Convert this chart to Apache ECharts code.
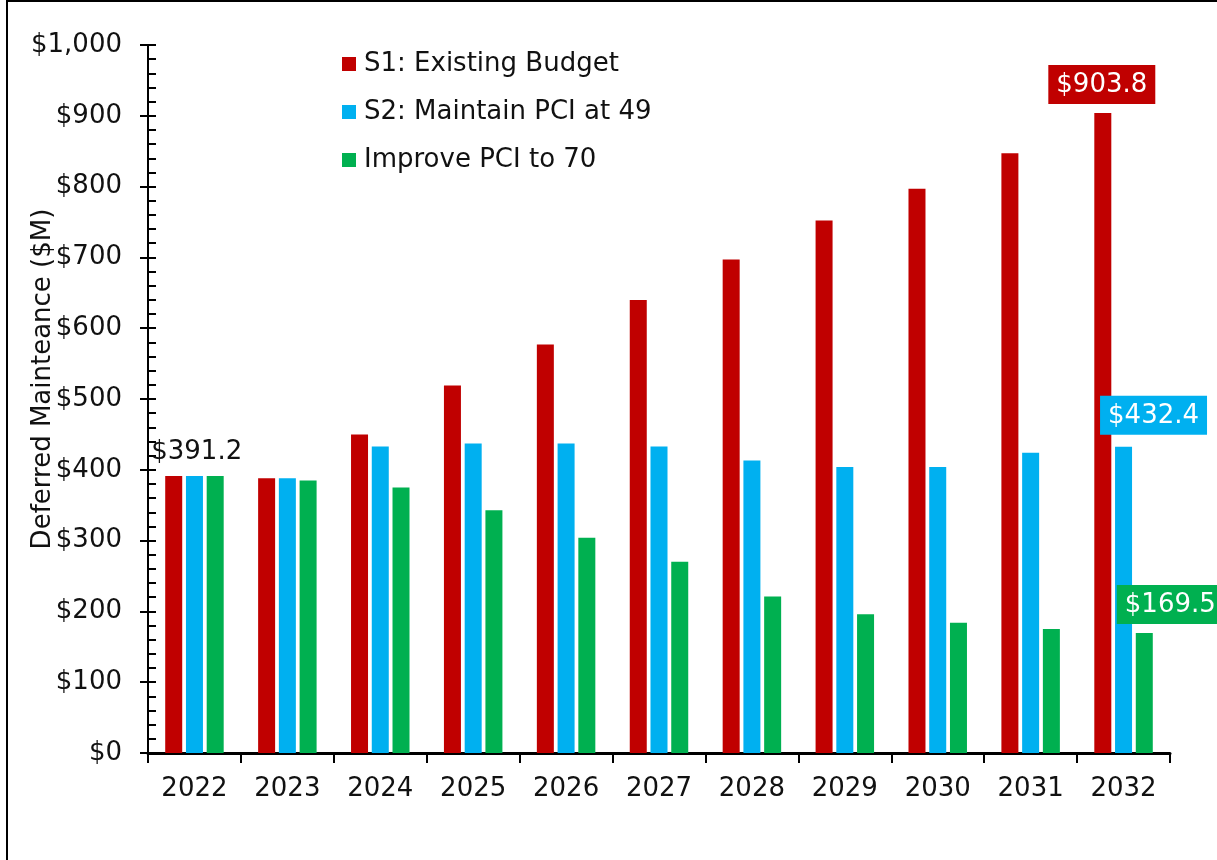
<!DOCTYPE html>
<html>
<head>
<meta charset="utf-8">
<script src="https://cdn.jsdelivr.net/npm/echarts@6/dist/echarts.min.js"></script>
<style>
  html, body { margin: 0; padding: 0; background: #fff; }
  #main { width: 1217px; height: 860px; }
</style>
</head>
<body>
<div id="main"></div>
<script>
var years = ['2022', '2023', '2024', '2025', '2026', '2027', '2028', '2029', '2030', '2031', '2032'];
var seriesNames = ['S1: Existing Budget', 'S2: Maintain PCI at 49', 'Improve PCI to 70'];
var s1Values = [391.2, 388, 450, 519, 577, 640, 697, 752, 797, 847, 903.8];
var s2Values = [391.2, 388, 433, 437, 437, 433, 413, 404, 404, 424, 432.4];
var s3Values = [391.2, 385, 375, 343, 304, 270, 221, 196, 184, 175, 169.5];
var colors = ['#C00000', '#00B0F0', '#00B050'];

var font = 'DejaVu Sans';

function money(v) {
    return '$' + v.toFixed(1);
}

// labels only on a few bars
function buildData(values, labels) {
    return values.map(function (v, i) {
        var item = { value: v };
        if (labels[i]) item.label = labels[i];
        return item;
    });
}

var boxLabel = function (bg, offset) {
    return {
        show: true,
        position: 'top',
        distance: 9,
        offset: offset,
        formatter: function (p) { return money(p.value); },
        color: '#fff',
        backgroundColor: bg,
        padding: [7, 8, 6, 8],
        fontSize: 26,
        fontFamily: font
    };
};

var s1Labels = {};
s1Labels[0] = {
    show: true, position: 'top', distance: 11, offset: [23, 0],
    formatter: function (p) { return money(p.value); },
    color: '#111', fontSize: 26, fontFamily: font
};
s1Labels[10] = boxLabel(colors[0], [-1, 0]);
var s2Labels = {};
s2Labels[10] = boxLabel(colors[1], [30, -3]);
var s3Labels = {};
s3Labels[10] = boxLabel(colors[2], [26, 0]);

var chartDom = document.getElementById('main');
var myChart = echarts.init(chartDom);
var option;

option = {
    backgroundColor: '#fff',
    animation: false,
    textStyle: { fontFamily: font },
    graphic: [{
        type: 'rect',
        shape: { x: 7, y: 1, width: 1300, height: 1000 },
        style: { fill: 'none', stroke: '#000', lineWidth: 2 }
    }],
    legend: {
        orient: 'vertical',
        left: 337,
        top: 45,
        icon: 'rect',
        itemWidth: 14,
        itemHeight: 14,
        itemGap: 20,
        textStyle: { fontSize: 26, color: '#111', fontFamily: font, lineHeight: 28, padding: [0, 0, 0, 3] },
        data: seriesNames
    },
    grid: {
        left: 148,
        right: 47,
        top: 45,
        bottom: 107,
        containLabel: false
    },
    xAxis: {
        type: 'category',
        data: years,
        axisLine: { lineStyle: { color: '#000', width: 3 } },
        axisTick: { show: true, length: 10, lineStyle: { color: '#000', width: 2 } },
        axisLabel: { color: '#111', fontSize: 26, margin: 23, fontFamily: font }
    },
    yAxis: [{
        type: 'value',
        min: 0,
        max: 1000,
        interval: 100,
        name: 'Deferred Mainteance ($M)',
        nameLocation: 'middle',
        nameGap: 92,
        nameMoveOverlap: false,
        nameTextStyle: { fontSize: 26, color: '#111', fontFamily: font, padding: [0, 0, 0, 40] },
        axisLine: { show: true, lineStyle: { color: '#000', width: 2 } },
        axisTick: { show: true, inside: true, length: 8, lineStyle: { color: '#000', width: 2 } },
        minorTick: { show: true, splitNumber: 5, length: 8, lineStyle: { color: '#000', width: 2 } },
        splitLine: { show: false },
        axisLabel: {
            color: '#111', fontSize: 26, margin: 26, fontFamily: font,
            formatter: function (v) { return '$' + v.toLocaleString('en-US'); }
        }
    }, {
        // outer half of the major ticks
        type: 'value',
        position: 'left',
        min: 0,
        max: 1000,
        interval: 100,
        axisLine: { show: false },
        axisTick: { show: true, length: 8, lineStyle: { color: '#000', width: 2 } },
        axisLabel: { show: false },
        splitLine: { show: false }
    }],
    series: [
        {
            name: seriesNames[0],
            type: 'bar',
            barWidth: 17,
            barGap: '22%',
            itemStyle: { color: colors[0] },
            data: buildData(s1Values, s1Labels)
        },
        {
            name: seriesNames[1],
            type: 'bar',
            barWidth: 17,
            barGap: '22%',
            itemStyle: { color: colors[1] },
            data: buildData(s2Values, s2Labels)
        },
        {
            name: seriesNames[2],
            type: 'bar',
            barWidth: 17,
            barGap: '22%',
            itemStyle: { color: colors[2] },
            data: buildData(s3Values, s3Labels)
        }
    ]
};

option && myChart.setOption(option);
window.addEventListener("resize",function(){
    myChart.resize();
});
</script>
</body>
</html>
